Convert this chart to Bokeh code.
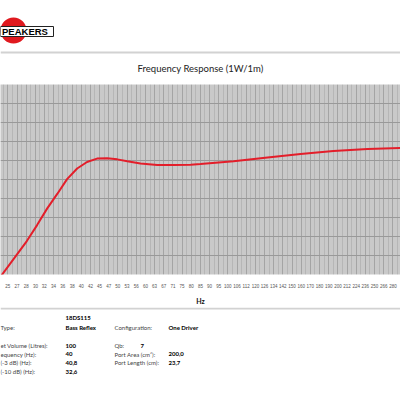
from bokeh.plotting import figure
from bokeh.models import Range1d, FixedTicker
from bokeh.layouts import column
from bokeh.embed import file_html
from bokeh.resources import INLINE
from bokeh.core.properties import value

# ---- data ----
freq_hz = [24.1, 26.7, 28.4, 30.3, 32.3, 34.4, 36.6, 39.0, 41.5, 44.2, 47.1, 50.2,
           53.5, 58.1, 64.6, 71.7, 79.7, 84.8, 104.5, 129.4, 159.4, 196.0, 243.0, 299.0]
spl_db = [59.5, 65.3, 68.8, 73.0, 77.4, 81.2, 85.1, 87.9, 89.6, 90.5, 90.6, 90.3,
          89.8, 89.2, 88.8, 88.8, 88.9, 89.1, 89.8, 90.8, 91.7, 92.5, 93.0, 93.3]

tick_hz = [23.8, 25.2, 26.7, 28.3, 30.0, 31.7, 33.6, 35.6, 37.8, 40.0, 42.4, 44.9,
           47.6, 50.4, 53.4, 56.6, 60.0, 63.5, 67.3, 71.3, 75.5, 80.0, 84.8, 89.8,
           95.1, 100.8, 106.8, 113.1, 119.9, 127.0, 134.5, 142.5, 151.0, 160.0, 169.5,
           179.6, 190.3, 201.6, 213.6, 226.3, 239.7, 254.0, 269.1, 285.1, 302.0]
tick_labels = ["24", "25", "27", "28", "30", "32", "34", "36", "38", "40", "42", "45",
               "47", "50", "53", "56", "60", "63", "67", "71", "75", "80", "85", "90",
               "95", "100", "106", "112", "120", "126", "134", "142", "150", "160", "170",
               "180", "190", "200", "212", "224", "236", "250", "266", "280", "300"]
db_ticks = [60, 65, 70, 75, 80, 85, 90, 95, 100, 105, 110]

title_text = "Frequency Response (1W/1m)"
model_name = "18DS115"
left_labels = ["Type:", "et Volume (Litres):", "equency (Hz):", "(-3 dB) (Hz):", "(-10 dB) (Hz):"]
left_values = ["Bass Reflex", "100", "40", "40,8", "32,6"]
right_labels = ["Configuration:", "Qb:", "Port Area (cm\u00b2):", "Port Length (cm):"]
right_values = ["One Driver", "7", "200,0", "23,7"]

FONT = value("Lato")

def bare(fig):
    fig.xgrid.visible = False
    fig.ygrid.visible = False
    fig.outline_line_color = None
    fig.background_fill_color = "white"
    fig.border_fill_color = "white"

# ---- header ----
h = figure(width=400, height=84, x_range=Range1d(0, 400), y_range=Range1d(84, 0),
           output_backend="svg", toolbar_location=None, x_axis_location=None,
           y_axis_location=None, min_border=0)
bare(h)
h.scatter(x=[13], y=[30], marker="circle", size=26, fill_color="#e0191f", line_color=None)
h.quad(left=[0], right=[53], top=[26], bottom=[36], fill_color="white", line_color="#222222", line_width=1)
h.text(x=[1.5], y=[31.3], text=["PEAKERS"], text_font=value("Liberation Sans"),
       text_font_style="bold", text_font_size="9.5px", text_baseline="middle", text_color="black")
h.segment(x0=[0], y0=[52], x1=[400], y1=[52], line_color="#d2d2d2", line_width=2)
h.text(x=[200], y=[68], text=[title_text], text_font=FONT, text_font_size="9.5px",
       text_align="center", text_baseline="middle", text_color="#222222")

# ---- main chart ----
minor_hz = [(a * b) ** 0.5 for a, b in zip(tick_hz[:-1], tick_hz[1:])]
p = figure(width=400, height=223, x_axis_type="log", x_range=Range1d(24.06, 299.1),
           y_range=Range1d(60, 110), output_backend="svg", toolbar_location=None,
           y_axis_location=None, min_border_left=0, min_border_right=0,
           min_border_top=0, min_border_bottom=30)
p.background_fill_color = "#c9c9c9"
p.border_fill_color = "white"
p.outline_line_color = None
ax = p.xaxis[0]
ax.ticker = FixedTicker(ticks=tick_hz, minor_ticks=minor_hz)
ax.major_label_overrides = {t: l for t, l in zip(tick_hz, tick_labels)}
ax.major_label_text_font = "Liberation Sans"
ax.major_label_text_font_size = "4.5px"
ax.major_label_text_color = "#555555"
ax.major_label_standoff = 3
ax.major_tick_line_color = None
ax.minor_tick_line_color = None
ax.axis_line_color = None
ax.axis_label = "Hz"
ax.axis_label_text_font = "Lato"
ax.axis_label_text_font_size = "7px"
ax.axis_label_text_font_style = "bold"
ax.axis_label_text_color = "#111111"
ax.axis_label_standoff = 6
p.xgrid.grid_line_color = "#a4a4a4"
p.xgrid.grid_line_width = 1
p.xgrid.minor_grid_line_color = "#b6b6b6"
p.ygrid.ticker = FixedTicker(ticks=db_ticks)
p.ygrid.grid_line_color = "#999999"
p.ygrid.grid_line_width = 1
p.line(freq_hz, spl_db, line_color="#e31e2a", line_width=2)

# ---- info block ----
b = figure(width=400, height=93, x_range=Range1d(0, 400), y_range=Range1d(400, 307),
           output_backend="svg", toolbar_location=None, x_axis_location=None,
           y_axis_location=None, min_border=0)
bare(b)
b.segment(x0=[0], y0=[308], x1=[400], y1=[308], line_color="#d2d2d2", line_width=2)
left_y = [327, 345, 353.5, 362.3, 371]
right_y = [327, 345, 353.5, 362.3]
b.text(x=[65], y=[317], text=[model_name], text_font=FONT, text_font_style="bold",
       text_font_size="6px", text_baseline="middle", text_color="black")
b.text(x=[0] * len(left_labels), y=left_y, text=left_labels, text_font=FONT,
       text_font_size="6px", text_baseline="middle", text_color="#444444")
b.text(x=[65] * len(left_values), y=left_y, text=left_values, text_font=FONT,
       text_font_style="bold", text_font_size="6px", text_baseline="middle", text_color="black")
b.text(x=[114] * len(right_labels), y=right_y, text=right_labels, text_font=FONT,
       text_font_size="6px", text_baseline="middle", text_color="#444444")
b.text(x=[168, 140, 168, 168], y=right_y, text=right_values, text_font=FONT,
       text_font_style="bold", text_font_size="6px", text_baseline="middle", text_color="black")

layout = column(h, p, b)
open("out.html", "w").write(file_html(layout, INLINE))
